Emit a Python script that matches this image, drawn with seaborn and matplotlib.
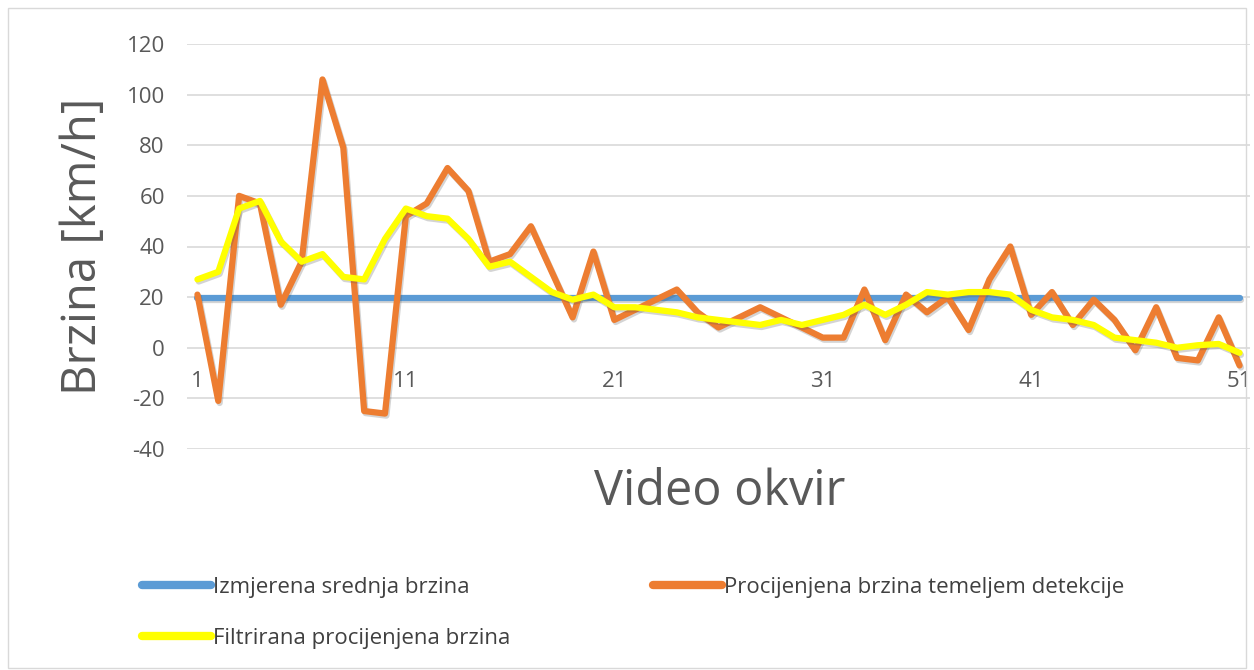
import matplotlib
matplotlib.use("Agg")
import matplotlib.pyplot as plt
import matplotlib.patheffects as pe
from matplotlib.patches import Rectangle
import pandas as pd
import seaborn as sns

frames = list(range(1, 52))

measured = [19.5] * 51

estimated = [21, -21, 60, 57, 17, 34, 106, 79, -25, -26,
             52, 57, 71, 62, 34, 37, 48, 30, 12, 38,
             11, 15, 19, 23, 14, 8, 12, 16, 12, 8,
             4, 4, 23, 3, 21, 14, 20, 7, 27, 40,
             13, 22, 9, 19, 11, -1, 16, -4, -5, 12,
             -7]

filtered = [27, 30, 55, 58, 42, 34, 37, 28, 27, 43,
            55, 52, 51, 43, 32, 34, 28, 22, 19, 21,
            16, 16, 15, 14, 12, 11, 10, 9, 11, 9,
            11, 13, 17, 13, 17, 22, 21, 22, 22, 21,
            15, 12, 11, 9, 4, 3, 2, 0, 1, 1.5,
            -2]

labels = ["Izmjerena srednja brzina",
          "Procijenjena brzina temeljem detekcije",
          "Filtrirana procijenjena brzina"]
colors = ["#5B9BD5", "#ED7D31", "#FFFF00"]

df = pd.DataFrame({
    "frame": frames * 3,
    "speed": measured + estimated + filtered,
    "series": [labels[0]] * 51 + [labels[1]] * 51 + [labels[2]] * 51,
})

sns.set_theme(style="white")
plt.rcParams["font.family"] = ["Open Sans", "DejaVu Sans"]
plt.rcParams["axes.unicode_minus"] = False

fig = plt.figure(figsize=(12.54, 6.70), dpi=100)
ax = fig.add_axes([187 / 1254, 1 - 449 / 670, (1250 - 187) / 1254, (449 - 44) / 670])

sns.lineplot(data=df, x="frame", y="speed", hue="series", hue_order=labels,
             palette=colors, linewidth=4.5, ax=ax, legend=False)
shadow = [pe.SimpleLineShadow(offset=(1, -1.5), alpha=0.25, shadow_color="#555555"), pe.Normal()]
for line in ax.get_lines():
    line.set_solid_joinstyle("round")
    line.set_solid_capstyle("round")
    line.set_path_effects(shadow)

ax.set_xlim(0.5, 51.5)
ax.set_ylim(-40, 120)
ax.set_yticks(range(-40, 121, 20))
ax.set_xticks([1, 11, 21, 31, 41, 51])
ax.set_xlabel("")
ax.set_ylabel("")
ax.grid(axis="y", color="#D9D9D9", linewidth=1.2)
ax.set_axisbelow(True)
for s in ["top", "right", "left"]:
    ax.spines[s].set_visible(False)
ax.spines["bottom"].set_position(("data", 0))
ax.spines["bottom"].set_visible(False)
ax.tick_params(axis="x", length=0, pad=17, labelsize=16, labelcolor="#595959")
ax.tick_params(axis="y", length=0, pad=16, labelsize=16, labelcolor="#595959")

fig.text(83 / 1254, 1 - 246 / 670, "Brzina [km/h]", rotation=90, ha="center", va="center",
         fontsize=34, color="#595959")
fig.text(720 / 1254, 1 - 492 / 670, "Video okvir", ha="center", va="center",
         fontsize=35, color="#595959")

handles = [plt.Line2D([], [], color=c, linewidth=6, solid_capstyle="round") for c in colors]
order = [0, 2, 1]
fig.legend([handles[i] for i in order], [labels[i] for i in order],
           loc="upper left", bbox_to_anchor=(122 / 1254, 1 - 557 / 670), ncol=2,
           frameon=False, fontsize=16, handlelength=3.1, handletextpad=0.1,
           columnspacing=6.4, labelspacing=1.35, labelcolor="#404040")

fig.patches.append(Rectangle((8 / 1254, 2 / 670), 1238 / 1254, 660 / 670, transform=fig.transFigure,
                             fill=False, edgecolor="#D9D9D9", linewidth=1))

fig.savefig("out.png", dpi=100)
